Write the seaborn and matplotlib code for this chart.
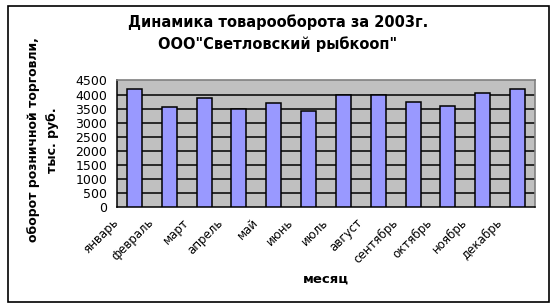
import matplotlib
matplotlib.use("Agg")
import matplotlib.pyplot as plt
import matplotlib.patches as mpatches
import seaborn as sns
import numpy as np
import pandas as pd

months = ["январь", "февраль", "март", "апрель", "май", "июнь",
          "июль", "август", "сентябрь", "октябрь", "ноябрь", "декабрь"]
turnover = [4210, 3570, 3860, 3480, 3710, 3430,
            4000, 3980, 3750, 3610, 4050, 4210]
yticks = [0, 500, 1000, 1500, 2000, 2500, 3000, 3500, 4000, 4500]

title_text = "Динамика товарооборота за 2003г.\nООО\"Светловский рыбкооп\""
ylabel_text = "оборот розничной торговли,\nтыс. руб."
xlabel_text = "месяц"

sns.set_style("white")
plt.rcParams['font.family'] = ['DejaVu Sans']
plt.rcParams['text.color'] = 'black'
plt.rcParams['axes.labelcolor'] = 'black'
plt.rcParams['xtick.color'] = 'black'
plt.rcParams['ytick.color'] = 'black'

df = pd.DataFrame({"month": months, "value": turnover})

W, H = 557, 307
fig = plt.figure(figsize=(W / 100, H / 100), dpi=100)
fig.patch.set_facecolor("white")

# outer chart border
fig.add_artist(mpatches.Rectangle((7.5 / W, 1 - 301.5 / H), (549 - 7.5) / W, (301.5 - 5.5) / H,
                                  transform=fig.transFigure, fill=False,
                                  edgecolor="black", linewidth=1.2))

left, right, top, bottom = 117, 535, 80.5, 207
ax = fig.add_axes([left / W, 1 - bottom / H, (right - left) / W, (bottom - top) / H])
ax.set_facecolor("#C0C0C0")

sns.barplot(data=df, x="month", y="value", color="#9999FF", saturation=1,
            edgecolor="black", linewidth=1.1, width=0.43, ax=ax, zorder=3)

ax.set_ylim(0, 4500)
ax.set_xlim(-0.5, 11.5)
ax.set_yticks(yticks)
ax.set_yticklabels([str(v) for v in yticks], fontsize=9, color="black")
for v in yticks[1:-1]:
    ax.axhline(v, color="black", linewidth=1.1, zorder=1)

ax.set_xticks(np.arange(13) - 0.5)
ax.set_xticklabels(months + [""], rotation=45, ha="right", va="center",
                   rotation_mode="anchor", fontsize=8.5, color="black")
ax.tick_params(axis="x", direction="out", length=4, width=1, color="black", pad=6)
ax.tick_params(axis="y", direction="out", length=4, width=1, color="black", pad=3)

for s in ["top", "right"]:
    ax.spines[s].set_color("#808080")
    ax.spines[s].set_linewidth(1.2)
for s in ["left", "bottom"]:
    ax.spines[s].set_color("black")
    ax.spines[s].set_linewidth(1.1)

ax.set_xlabel("")
ax.set_ylabel("")
fig.text(326 / W, 1 - 279 / H, xlabel_text, ha="center", va="center",
         fontsize=9.5, fontweight="bold", color="black")
fig.text(43 / W, 1 - 140 / H, ylabel_text, ha="center", va="center",
         rotation=90, fontsize=9, fontweight="bold", linespacing=1.6, color="black")
fig.text(278 / W, 1 - 33 / H, title_text, ha="center", va="center",
         fontsize=10.5, fontweight="bold", linespacing=1.5, color="black")

fig.savefig("out.png", dpi=100)
